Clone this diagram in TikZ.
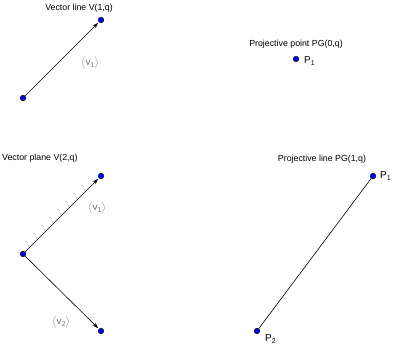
\documentclass[tikz,border=0pt]{standalone}
\usepackage{fontspec}
\setmainfont{Liberation Sans}
\usetikzlibrary{arrows.meta}
\newcommand{\lowsub}[1]{\raisebox{-0.45ex}{\fontsize{7}{8}\selectfont #1}}
\begin{document}
\begin{tikzpicture}[x=1pt,y=-1pt,
  pt/.style={circle,draw=black,fill=blue,inner sep=0pt,minimum size=5.5pt,line width=0.5pt},
  ttl/.style={font=\fontsize{8.8}{10}\selectfont,inner sep=0pt},
  lbl/.style={font=\fontsize{10}{11}\selectfont,inner sep=0pt},
  vlbl/.style={font=\fontsize{10}{11}\selectfont,text=black!55,inner sep=0pt},
  vec/.style={-{Stealth[length=6pt,width=4pt]},line width=0.6pt,shorten >=1pt},
  seg/.style={line width=0.6pt}]
\useasboundingbox (0,0) rectangle (393,348);
% Vector line
\node[pt] (a0) at (23,98) {};
\node[pt] (a1) at (101,20) {};
\draw[vec] (a0) -- (a1);
\node[ttl] (t1) at (79,8) {Vector line V(1,q)};
\node[vlbl] (av) at (90,63) {$\big\langle$v\lowsub{1}$\big\rangle$};
% Projective point
\node[pt] (p0) at (296,59) {};
\node[ttl] (t2) at (296,44) {Projective point PG(0,q)};
\node[lbl,anchor=west] (p0l) at (304,61) {P\lowsub{1}};
% Vector plane
\node[pt] (b0) at (23,254) {};
\node[pt] (b1) at (101,176) {};
\node[pt] (b2) at (101,331) {};
\draw[vec] (b0) -- (b1);
\draw[vec] (b0) -- (b2);
\node[ttl,anchor=west] (t3) at (2,158) {Vector plane V(2,q)};
\node[vlbl] (bv1) at (97,208) {$\big\langle$v\lowsub{1}$\big\rangle$};
\node[vlbl] (bv2) at (61,322) {$\big\langle$v\lowsub{2}$\big\rangle$};
% Projective line
\node[pt] (q1) at (373,176) {};
\node[pt] (q2) at (257,331) {};
\draw[seg] (q1) -- (q2);
\node[ttl] (t4) at (322,159) {Projective line PG(1,q)};
\node[lbl,anchor=west] (q1l) at (380,176) {P\lowsub{1}};
\node[lbl,anchor=west] (q2l) at (265,339) {P\lowsub{2}};
\end{tikzpicture}
\end{document}
